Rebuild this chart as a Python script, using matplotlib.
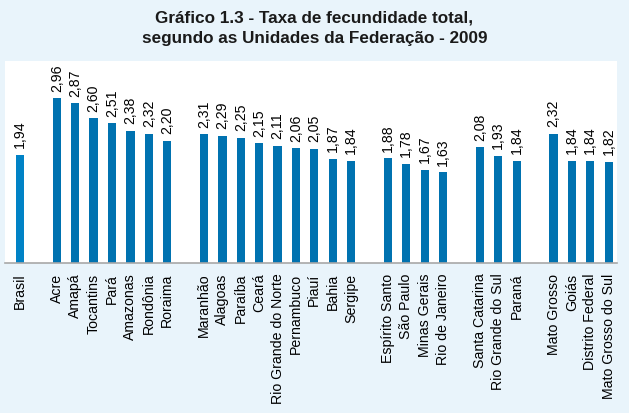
import matplotlib
matplotlib.use("Agg")
import matplotlib.pyplot as plt

states = ["Brasil",
          "Acre", "Amapá", "Tocantins", "Pará", "Amazonas", "Rondônia", "Roraima",
          "Maranhão", "Alagoas", "Paraíba", "Ceará", "Rio Grande do Norte", "Pernambuco", "Piauí", "Bahia", "Sergipe",
          "Espírito Santo", "São Paulo", "Minas Gerais", "Rio de Janeiro",
          "Santa Catarina", "Rio Grande do Sul", "Paraná",
          "Mato Grosso", "Goiás", "Distrito Federal", "Mato Grosso do Sul"]
values = [1.94,
          2.96, 2.87, 2.60, 2.51, 2.38, 2.32, 2.20,
          2.31, 2.29, 2.25, 2.15, 2.11, 2.06, 2.05, 1.87, 1.84,
          1.88, 1.78, 1.67, 1.63,
          2.08, 1.93, 1.84,
          2.32, 1.84, 1.84, 1.82]
group_sizes = [1, 7, 9, 4, 3, 4]

# positions with one-slot gap between groups
positions = []
p = 0
for g in group_sizes:
    for i in range(g):
        positions.append(p)
        p += 1
    p += 1

bg = "#E9F4FB"
fig = plt.figure(figsize=(6.29, 4.14), dpi=100, facecolor=bg)
ax = fig.add_axes([5/629, 150/414, 612/629, 202/414])
ax.set_facecolor("white")

colors = ["#0082C6"] + ["#0072B0"] * (len(values) - 1)
bars = ax.bar(positions, values, width=0.45, color=colors, zorder=2)

for x, v in zip(positions, values):
    ax.annotate(f"{v:.2f}".replace(".", ","), (x, v), xytext=(0, 5.5),
                textcoords="offset points", rotation=90, ha="center", va="bottom",
                fontsize=10.2, family="Liberation Sans", color="black")

ax.set_xlim(-0.815, 32.45)
ax.set_ylim(0, 3.63)
ax.set_xticks(positions)
ax.set_xticklabels(states, rotation=90, fontsize=10.2, family="Liberation Sans", va="top", ha="center")
ax.tick_params(axis="x", length=0, pad=7)
ax.set_yticks([])
for s in ["top", "right", "left"]:
    ax.spines[s].set_visible(False)
ax.spines["bottom"].set_color("#A8A8A8")
ax.spines["bottom"].set_linewidth(1.2)

fig.text(0.5, 1 - 18/414, "Gráfico 1.3 - Taxa de fecundidade total,", ha="center", va="center",
         fontsize=12.3, fontweight="bold", family="Liberation Sans", color="#1a1a1a")
fig.text(0.5, 1 - 39/414, "segundo as Unidades da Federação - 2009", ha="center", va="center",
         fontsize=12.3, fontweight="bold", family="Liberation Sans", color="#1a1a1a")

fig.savefig("out.png", dpi=100, facecolor=bg)
